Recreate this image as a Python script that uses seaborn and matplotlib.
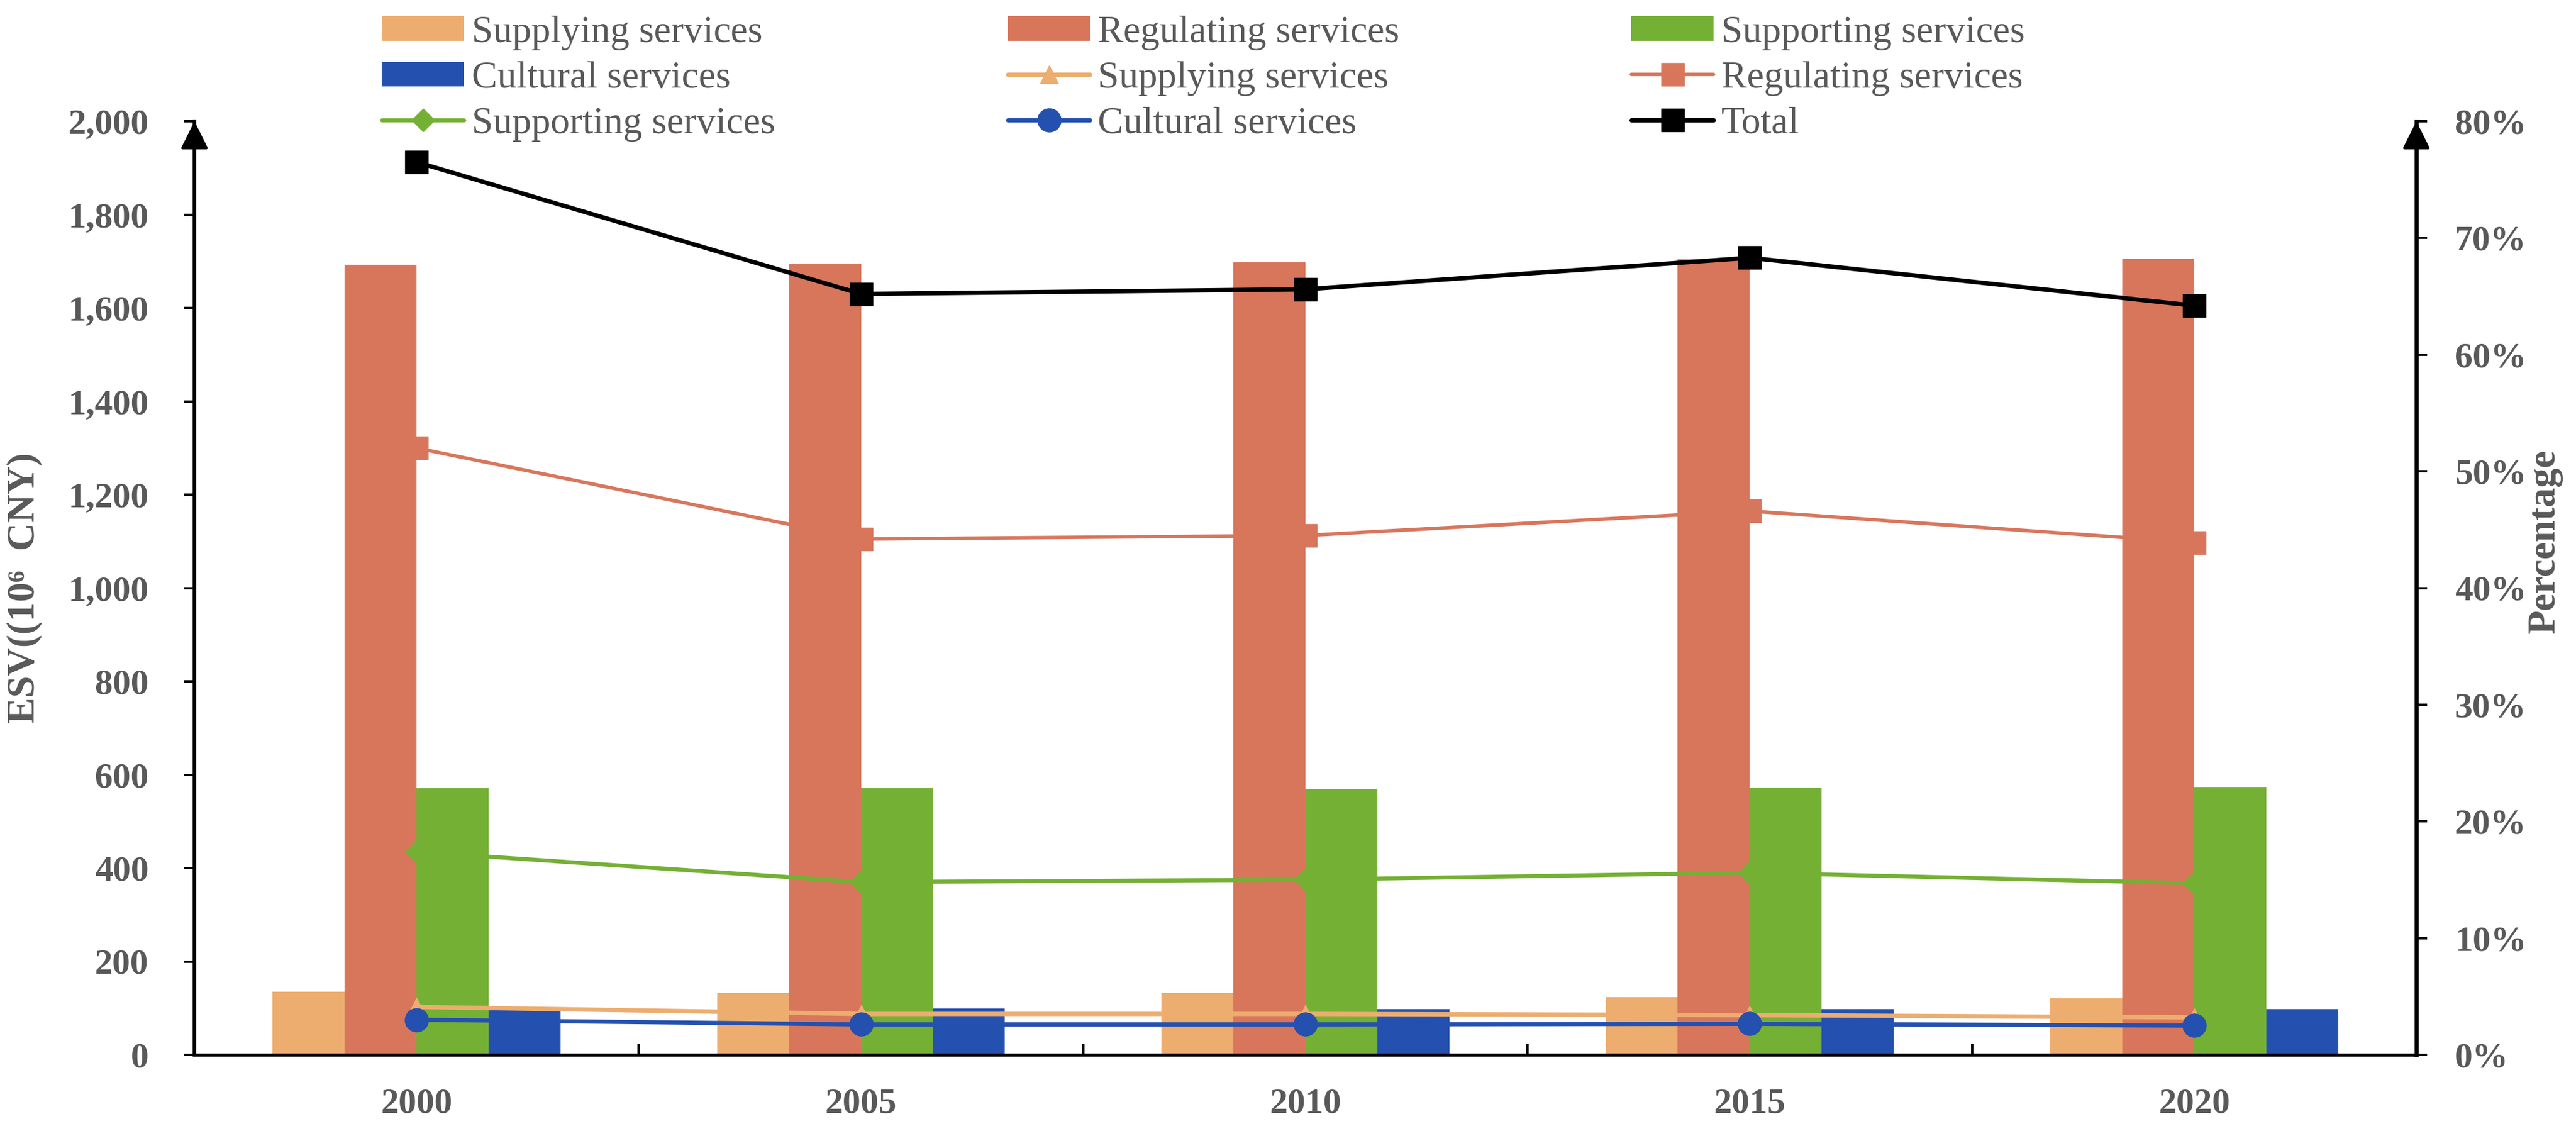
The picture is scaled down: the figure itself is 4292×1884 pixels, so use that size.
import matplotlib
matplotlib.use('Agg')

import seaborn as sns
import numpy
import pandas
import matplotlib.pyplot as plt
from matplotlib.patches import Patch

# categories
years = ['2000', '2005', '2010', '2015', '2020']
services = ['Supplying services', 'Regulating services', 'Supporting services', 'Cultural services']

# ESV (10^6 CNY), bars on the left axis
esv_supplying = [135, 133, 133, 124, 121]
esv_regulating = [1692, 1695, 1698, 1704, 1706]
esv_supporting = [571, 571, 569, 572, 574]
esv_cultural = [95, 99, 98, 98, 98]

# percentage, lines on the right axis
pct_supplying = [4.1, 3.5, 3.5, 3.4, 3.2]
pct_regulating = [52.0, 44.2, 44.5, 46.6, 43.9]
pct_supporting = [17.4, 14.8, 15.0, 15.6, 14.7]
pct_cultural = [3.0, 2.6, 2.6, 2.65, 2.5]
pct_total = [76.5, 65.2, 65.6, 68.3, 64.2]

esv_ticks = list(range(0, 2001, 200))
pct_ticks = [0, 10, 20, 30, 40, 50, 60, 70, 80]

COLORS = {
    'Supplying services': '#EDAD6F',
    'Regulating services': '#D8765C',
    'Supporting services': '#74B034',
    'Cultural services': '#2450B0',
    'Total': '#000000',
}
TEXT = '#595959'

W, H, DPI = 4292, 1884, 200

bars = pandas.DataFrame({
    'Year': years * len(services),
    'Service': numpy.repeat(services, len(years)),
    'ESV': esv_supplying + esv_regulating + esv_supporting + esv_cultural,
})

sns.set_theme(style='white')
plt.rcParams['font.family'] = ['Liberation Serif', 'DejaVu Serif']

fig, ax = plt.subplots(figsize=(W / DPI, H / DPI), dpi=DPI)
fig.subplots_adjust(left=324 / W, right=4026 / W, bottom=(H - 1757) / H, top=(H - 202) / H)

sns.barplot(data=bars, x='Year', y='ESV', hue='Service', order=years, hue_order=services,
            palette=COLORS, width=0.648, saturation=1, errorbar=None, linewidth=0,
            legend=False, ax=ax)

ax2 = ax.twinx()
pos = numpy.arange(len(years))
line_series = [
    ('Supplying services', pct_supplying, '^', 11, 2.6),
    ('Regulating services', pct_regulating, 's', 13.5, 2.1),
    ('Supporting services', pct_supporting, 'D', 9.7, 2.4),
    ('Cultural services', pct_cultural, 'o', 14, 2.5),
    ('Total', pct_total, 's', 13.7, 2.6),
]
for name, vals, marker, ms, lw in line_series:
    c = COLORS[name]
    sns.lineplot(x=pos, y=numpy.array(vals) / 100, ax=ax2, color=c, marker=marker,
                 markersize=ms, markeredgecolor=c, markeredgewidth=0.5, linewidth=lw,
                 label=name, legend=False)

ax.set_xlim(-0.5, len(years) - 0.5)
ax.set_ylim(0, 2000)
ax2.set_ylim(0, 0.8)

# axes ticks
ax.set_yticks(esv_ticks)
ax.set_yticklabels([f'{t:,}' for t in esv_ticks], fontweight='bold')
ax.set_xticks(pos)
ax.set_xticklabels(years, fontweight='bold')
ax.set_xticks(pos[:-1] + 0.5, minor=True)
ax2.set_yticks([t / 100 for t in pct_ticks])
ax2.set_yticklabels([f'{t}%' for t in pct_ticks], fontweight='bold')

ax.tick_params(axis='y', which='major', left=True, direction='out', length=6.5, width=1.4,
               color='black', pad=21, labelsize=21.5, labelcolor=TEXT)
ax.tick_params(axis='x', which='major', bottom=True, length=0, pad=20, labelsize=21.5,
               labelcolor=TEXT)
ax.tick_params(axis='x', which='minor', bottom=True, direction='in', length=6.5, width=1.4,
               color='black')
ax2.tick_params(axis='y', which='major', right=True, direction='out', length=6.5, width=1.4,
                color='black', pad=16.5, labelsize=21.5, labelcolor=TEXT)
ax2.tick_params(axis='x', which='both', bottom=False, top=False, labelbottom=False)

# spines
for s in ['top', 'right']:
    ax.spines[s].set_visible(False)
for s in ['top', 'left', 'bottom']:
    ax2.spines[s].set_visible(False)
ax.spines['left'].set_color('black')
ax.spines['left'].set_linewidth(2.2)
ax.spines['bottom'].set_color('black')
ax.spines['bottom'].set_linewidth(1.9)
ax2.spines['right'].set_color('black')
ax2.spines['right'].set_linewidth(2.4)

# arrow heads on the value axes
for a, xf in ((ax, 0), (ax2, 1)):
    a.annotate('', xy=(xf, 1.0), xytext=(xf, 0.96), xycoords='axes fraction',
               arrowprops=dict(arrowstyle='-|>,head_length=0.6,head_width=0.3',
                               mutation_scale=24, color='black', lw=1.5,
                               shrinkA=0, shrinkB=0),
               annotation_clip=False)

ax.set_xlabel('')
ax.set_ylabel('ESV((10\u2076  CNY)', fontsize=23.5, fontweight='bold', color=TEXT)
ax.yaxis.set_label_coords(-0.0683, 0.5)
ax2.set_ylabel('Percentage', fontsize=23.5, fontweight='bold', color=TEXT)
ax2.yaxis.set_label_coords(1.0497, 0.55)
ax2.set_xlabel('')

# legend: 3 columns, row-major order as in the figure
bar_handles = [Patch(facecolor=COLORS[s], edgecolor='none') for s in services]
line_handles, line_labels = ax2.get_legend_handles_labels()
entries = list(zip(bar_handles, services)) + list(zip(line_handles, line_labels))

for j, xpos in enumerate([636, 1679, 2718]):
    col = entries[j::3]
    fig.legend(handles=[h for h, _ in col], labels=[l for _, l in col],
               loc='upper left', bbox_to_anchor=(xpos / W, 1 - 26 / H),
               frameon=False, borderpad=0, borderaxespad=0, handlelength=2.15,
               handleheight=0.6, handletextpad=0.2, labelspacing=0.28,
               fontsize=23, labelcolor=TEXT)

fig.savefig('out.png', dpi=DPI)
plt.close('all')
